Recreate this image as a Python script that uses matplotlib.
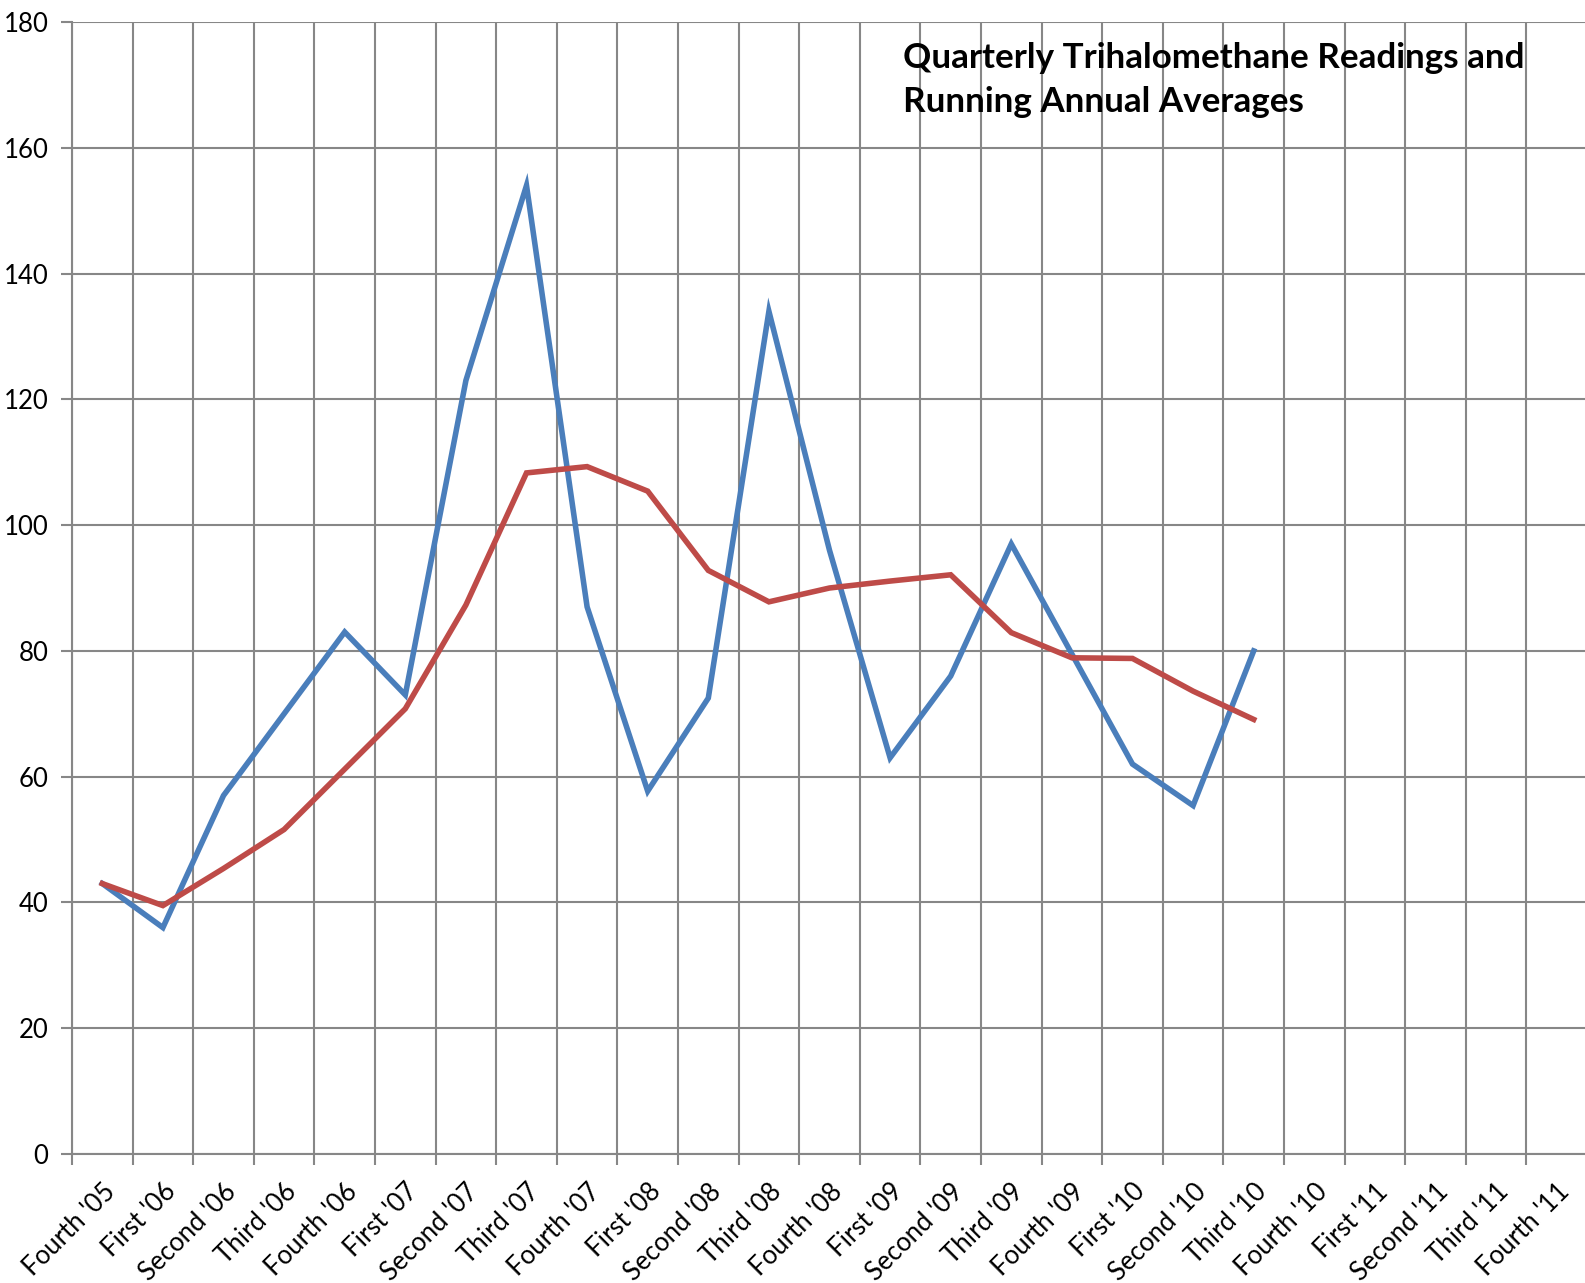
import matplotlib
matplotlib.use("Agg")
import matplotlib.pyplot as plt

plt.rcParams["font.family"] = ["Lato", "DejaVu Sans"]

# kwartały
quarters = [
    "Fourth '05", "First '06", "Second '06", "Third '06",
    "Fourth '06", "First '07", "Second '07", "Third '07",
    "Fourth '07", "First '08", "Second '08", "Third '08",
    "Fourth '08", "First '09", "Second '09", "Third '09",
    "Fourth '09", "First '10", "Second '10", "Third '10",
    "Fourth '10", "First '11", "Second '11", "Third '11",
    "Fourth '11",
]

# odczyty kwartalne (niebieska linia)
readings = [43, 36, 57, 70, 83, 73, 123, 154, 87, 57.7, 72.5, 134,
            96, 63, 76, 97, 79.5, 62, 55.4, 80]

# średnia roczna krocząca (czerwona linia)
running_avg = [43, 39.5, 45.4, 51.6, 61.2, 70.8, 87.3, 108.3, 109.3, 105.4,
               92.8, 87.8, 90.0, 91.1, 92.1, 82.9, 78.9, 78.8, 73.6, 69.1]

grid_color = "#878787"

fig = plt.figure(figsize=(15.85, 12.83), dpi=100)
ax = fig.add_axes([72 / 1585, 1 - 1154 / 1283, 1515 / 1585, 1132 / 1283])

x_pts = list(range(len(readings)))
ax.plot(x_pts, readings, color="#4A7EBB", linewidth=4.0,
        solid_joinstyle="miter", zorder=3)
ax.plot(x_pts, running_avg, color="#BE4B48", linewidth=4.0,
        solid_joinstyle="miter", zorder=3)

ax.set_xlim(-0.5, len(quarters) - 0.5)
ax.set_ylim(0, 180)
ax.set_yticks(range(0, 181, 20))

# linie siatki między kategoriami
ax.set_xticks([i - 0.5 for i in range(len(quarters) + 1)])
ax.set_xticklabels([])
ax.set_xticks(range(len(quarters)), minor=True)
ax.set_xticklabels(quarters, minor=True, rotation=45, ha="right",
                   rotation_mode="anchor", fontsize=18.5)

ax.grid(True, which="major", color=grid_color, linewidth=1.5)
ax.set_axisbelow(True)

for side in ["top", "right"]:
    ax.spines[side].set_visible(False)
for side in ["left", "bottom"]:
    ax.spines[side].set_color(grid_color)
    ax.spines[side].set_linewidth(1.5)

ax.tick_params(axis="y", which="major", length=8, width=1.5,
               color=grid_color, labelsize=18.5, pad=9)
ax.tick_params(axis="x", which="major", length=8, width=1.5,
               color=grid_color)
ax.tick_params(axis="x", which="minor", length=0, pad=18)

fig.text(903 / 1585, 1 - 42 / 1283,
         "Quarterly Trihalomethane Readings and\nRunning Annual Averages",
         fontsize=25.2, fontweight="bold", ha="left", va="top",
         linespacing=1.45)

fig.savefig("out.png", dpi=100)
plt.close(fig)
